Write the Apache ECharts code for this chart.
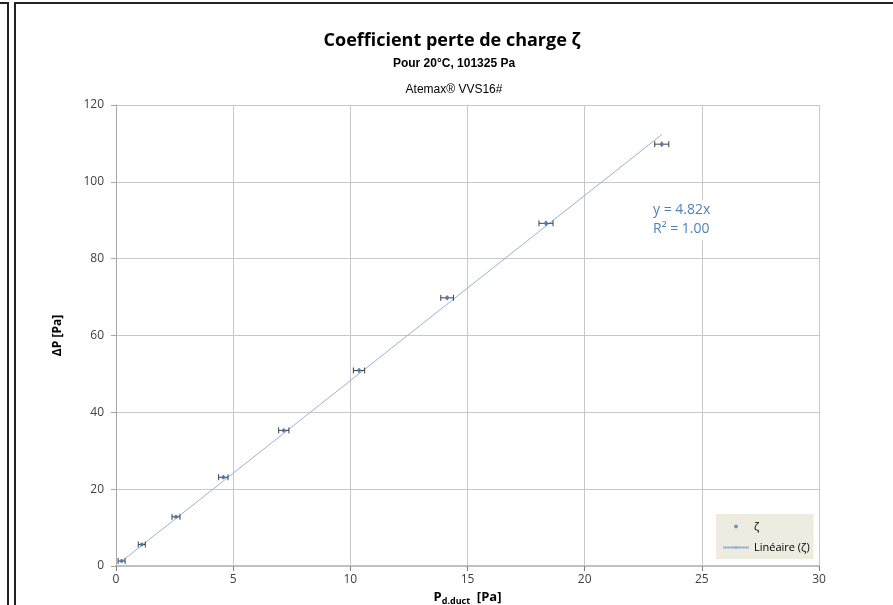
<!DOCTYPE html>
<html lang="fr">
<head>
<meta charset="UTF-8">
<title>Coefficient perte de charge</title>
<script src="https://cdn.jsdelivr.net/npm/echarts@6/dist/echarts.min.js"></script>
<style>
  html, body { margin: 0; padding: 0; background: #fff; }
  #chart { width: 893px; height: 605px; }
</style>
</head>
<body>
<div id="chart"></div>
<script>
var pDuct = [0.24, 1.10, 2.56, 4.58, 7.16, 10.37, 14.13, 18.35, 23.29];
var deltaP = [1.3, 5.6, 12.8, 23.1, 35.3, 50.9, 69.8, 89.2, 109.8];
var pDuctErr = [0.15, 0.15, 0.17, 0.2, 0.22, 0.24, 0.27, 0.3, 0.3];
var deltaPErr = [0.4, 0.4, 0.4, 0.5, 0.5, 0.6, 0.6, 0.7, 0.7];
// droite de tendance (extrémités)
var trendX = [0.24, 23.29];
var trendY = [1.2, 112.3];
var xTicks = [0, 5, 10, 15, 20, 25, 30];
var yTicks = [0, 20, 40, 60, 80, 100, 120];

var font = "'Liberation Sans Narrow', 'Liberation Sans', sans-serif";
var fontCal = "'Open Sans', 'Noto Sans', sans-serif";

var points = [];
var bars = [];
for (var i = 0; i < pDuct.length; i++) {
  points.push([pDuct[i], deltaP[i]]);
  bars.push([pDuct[i], deltaP[i], pDuctErr[i], deltaPErr[i]]);
}
var trend = [[trendX[0], trendY[0]], [trendX[1], trendY[1]]];

var chart = echarts.init(document.getElementById('chart'));

var option = {
  animation: false,
  title: [{
    text: 'Coefficient perte de charge ζ',
    left: 447, top: 27, textAlign: 'center',
    textStyle: { fontFamily: fontCal, fontSize: 18, fontWeight: 'bold', color: '#000' }
  }, {
    text: 'Pour 20°C, 101325 Pa',
    left: 449, top: 53, textAlign: 'center',
    textStyle: { fontFamily: font, fontSize: 12, fontWeight: 'bold', color: '#000' }
  }, {
    text: 'Atemax® VVS16#',
    left: 449, top: 79, textAlign: 'center',
    textStyle: { fontFamily: "'Liberation Sans', sans-serif", fontSize: 12, fontWeight: 'normal', color: '#000' }
  }],
  grid: { left: 116, right: 74, top: 105, bottom: 39, containLabel: false, outerBoundsMode: 'none' },
  legend: {
    left: 716, top: 514, width: 103, height: 49,
    orient: 'vertical',
    backgroundColor: '#eeece1',
    padding: [7, 4, 6, 6],
    itemGap: 10,
    itemWidth: 26, itemHeight: 4,
    textStyle: { fontFamily: fontCal, fontSize: 11, color: '#000' },
    data: [{ name: 'ζ', icon: 'circle', itemStyle: { color: '#4a7ebb' } }, { name: 'Linéaire (ζ)' }]
  },
  xAxis: {
    type: 'value', min: 0, max: 30, interval: 5,
    name: 'P{sub|d.duct}  [Pa]', nameLocation: 'middle', nameGap: 22,
    nameTextStyle: {
      fontFamily: fontCal, fontSize: 13, fontWeight: 'bold', color: '#000',
      rich: { sub: { fontFamily: fontCal, fontSize: 9, fontWeight: 'bold', verticalAlign: 'bottom', padding: [8, 0, 0, 0] } }
    },
    axisLine: { show: true, onZero: false, lineStyle: { color: '#bfbfbf', width: 2 } },
    axisTick: { show: true, length: 5, lineStyle: { color: '#808080' } },
    axisLabel: {
      fontFamily: fontCal, fontSize: 12, color: '#404040', margin: 8,
      formatter: function (v) { return xTicks.indexOf(v) >= 0 ? String(v) : ''; }
    },
    splitLine: { show: true, lineStyle: { color: '#c8c8c8', width: 1 } }
  },
  yAxis: {
    type: 'value', min: 0, max: 120, interval: 20,
    name: 'ΔP [Pa]', nameLocation: 'middle', nameGap: 52, nameRotate: 90,
    nameTextStyle: { fontFamily: fontCal, fontSize: 12, fontWeight: 'bold', color: '#000' },
    axisLine: { show: true, lineStyle: { color: '#a6a6a6', width: 1 } },
    axisTick: { show: true, length: 5, lineStyle: { color: '#a6a6a6' } },
    axisLabel: {
      fontFamily: fontCal, fontSize: 12, color: '#404040', margin: 12,
      formatter: function (v) { return yTicks.indexOf(v) >= 0 ? String(v) : ''; }
    },
    splitLine: { show: true, lineStyle: { color: '#c8c8c8', width: 1 } }
  },
  series: [{
    name: 'Linéaire (ζ)',
    type: 'line',
    data: trend,
    symbol: 'none',
    lineStyle: { color: '#95b3d7', width: 1 },
    itemStyle: { color: '#95b3d7' },
    z: 2
  }, {
    name: 'errors',
    type: 'custom',
    data: bars,
    z: 3,
    renderItem: function (params, api) {
      var x = api.value(0), y = api.value(1), ex = api.value(2), ey = api.value(3);
      var left = api.coord([x - ex, y]);
      var right = api.coord([x + ex, y]);
      var top = api.coord([x, y + ey]);
      var bot = api.coord([x, y - ey]);
      var st = { stroke: '#404040', lineWidth: 1 };
      return {
        type: 'group',
        children: [
          { type: 'line', shape: { x1: left[0], y1: left[1], x2: right[0], y2: right[1] }, style: st },
          { type: 'line', shape: { x1: left[0], y1: left[1] - 3, x2: left[0], y2: left[1] + 3 }, style: st },
          { type: 'line', shape: { x1: right[0], y1: right[1] - 3, x2: right[0], y2: right[1] + 3 }, style: st },
          { type: 'line', shape: { x1: top[0], y1: top[1], x2: bot[0], y2: bot[1] }, style: st }
        ]
      };
    }
  }, {
    name: 'ζ',
    type: 'scatter',
    data: points,
    symbol: 'circle',
    symbolSize: 4,
    itemStyle: { color: '#4a7ebb' },
    z: 4
  }],
  graphic: [{
    type: 'rect', left: 648, top: 200, z: 10,
    shape: { width: 68, height: 40 },
    style: { fill: '#fff' }
  }, {
    type: 'text', left: 653, top: 201, z: 11,
    style: {
      text: 'y = 4.82x\nR² = 1.00',
      font: "14px 'Open Sans', 'Noto Sans', sans-serif",
      lineHeight: 19, fill: '#4f81bd'
    }
  }, {
    type: 'polyline', z: 20,
    shape: { points: [[0, 3], [8, 3], [8, 605]] },
    style: { stroke: '#222', lineWidth: 2, fill: null }
  }, {
    type: 'polyline', z: 20,
    shape: { points: [[15, 605], [15, 3], [893, 3]] },
    style: { stroke: '#222', lineWidth: 2, fill: null }
  }]
};

chart.setOption(option);
</script>
</body>
</html>
